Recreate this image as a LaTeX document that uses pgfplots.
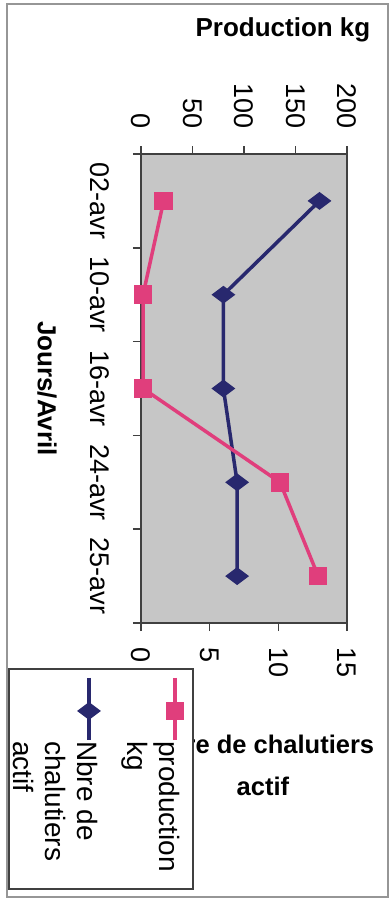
\documentclass[border=0pt]{standalone}
\usepackage{pgfplots}
\pgfplotsset{compat=1.18}
\usepackage{fontspec}
\setmainfont{Liberation Sans}
\definecolor{pinkc}{RGB}{224,62,124}
\definecolor{bluec}{RGB}{40,40,110}
\definecolor{bgc}{RGB}{198,198,198}
\definecolor{framec}{RGB}{150,150,150}
\begin{document}
\begin{tikzpicture}
\useasboundingbox (0,0) rectangle (390pt,898pt);
\draw[framec, line width=1.5pt] (7pt,1pt) rectangle (388pt,894pt);
\pgfplotsset{
  common/.style={
    at={(141pt,275pt)}, anchor=south west,
    scale only axis, width=206pt, height=469pt,
    ymin=-0.5, ymax=4.5,
    /pgf/number format/assume math mode=true,
    tick align=outside,
    major tick length=8pt,
    tick style={line width=1.5pt, color=black!75},
    axis line style={line width=1.5pt, color=black!75},
    clip=false,
  }
}
% secondary axis (Nbre de chalutiers), drawn first with background
\begin{axis}[common,
  xmin=0, xmax=15,
  xtick={0,5,10,15},
  xtick pos=left, xticklabel pos=left,
  ytick={0,1,2,3,4},
  yticklabels={25-avr,24-avr,16-avr,10-avr,02-avr},
  ytick pos=left,
  ytick style={draw=none},
  axis background/.style={fill=bgc},
  xticklabel shift=16pt,
  yticklabel shift=23pt,
  xticklabel style={font=\fontsize{27}{30}\selectfont, rotate=-90, anchor=west, inner sep=0pt},
  yticklabel style={font=\fontsize{27}{30}\selectfont, rotate=-90, anchor=north, inner sep=0pt},
  xlabel={Nbre de chalutiers\\actif},
  every axis x label/.style={at={(axis description cs:0.592,-0.303)}, anchor=center, align=center, font=\bfseries\fontsize{25.5}{42}\selectfont},
  ylabel={Jours/Avril},
  every axis y label/.style={at={(axis description cs:-0.456,0.5)}, anchor=center, rotate=-90, font=\bfseries\fontsize{26}{30}\selectfont},
]
\addplot[bluec, line width=3.5pt, mark=diamond*, mark size=9pt, mark options={rotate=90, solid, fill=bluec}]
  coordinates {(13,4) (6,3) (6,2) (7,1) (7,0)};
\end{axis}
% primary axis (Production kg)
\begin{axis}[common,
  xmin=0, xmax=200,
  xtick={0,50,100,150,200},
  xtick pos=right, xticklabel pos=right,
  ytick={-0.5,0.5,1.5,2.5,3.5,4.5},
  yticklabels={,,,,,},
  ytick pos=left,
  xticklabel shift=17pt,
  xticklabel style={font=\fontsize{27}{30}\selectfont, rotate=-90, anchor=east, inner sep=0pt},
  xlabel={Production kg},
  every axis x label/.style={at={(axis description cs:0.689,1.264)}, anchor=center, font=\bfseries\fontsize{26}{30}\selectfont},
]
\addplot[pinkc, line width=3.5pt, mark=square*, mark size=7.5pt, mark options={solid, fill=pinkc}]
  coordinates {(22,4) (2,3) (2,2) (135,1) (172,0)};
\end{axis}
% legend, drawn as a small boxed axis
\begin{axis}[at={(9pt,9pt)}, anchor=south west, scale only axis,
  width=184pt, height=220pt, xmin=0, xmax=184, ymin=0, ymax=220,
  xtick=\empty, ytick=\empty,
  axis line style={line width=1.2pt, color=black!75},
  axis background/.style={fill=white}, clip=false]
\addplot[pinkc, line width=3.5pt, mark=square*, mark size=7.5pt, mark indices={2}, mark options={solid, fill=pinkc}]
  coordinates {(166,211) (166,178) (166,149)};
\addplot[bluec, line width=3.5pt, mark=diamond*, mark size=9pt, mark indices={2}, mark options={rotate=90, solid, fill=bluec}]
  coordinates {(80,211) (80,178) (80,149)};
\node[rotate=-90, anchor=north west, inner sep=0pt, align=left, font=\fontsize{28}{32}\selectfont]
  at (axis cs:171,148) {production\\kg};
\node[rotate=-90, anchor=north west, inner sep=0pt, align=left, font=\fontsize{28}{32}\selectfont]
  at (axis cs:89,148) {Nbre de\\chalutiers\\actif};
\end{axis}
\end{tikzpicture}
\end{document}
